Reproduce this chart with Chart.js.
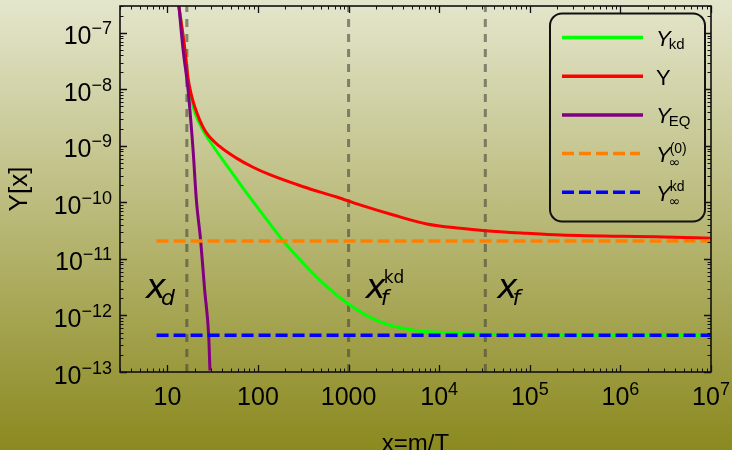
<!DOCTYPE html>
<html><head><meta charset="utf-8">
<script src="https://cdn.jsdelivr.net/npm/chart.js@4.4.1/dist/chart.umd.min.js"></script>
<style>
html,body{margin:0;padding:0;background:#fff;}
#wrap{width:732px;height:450px;background:linear-gradient(to bottom,#e4e6cc 0%,#8b891f 100%);position:relative;overflow:hidden;}
canvas{display:block;}
</style></head><body>
<div id="wrap"><canvas id="c" width="732" height="450"></canvas></div>
<script>
// ---- axis ranges & ticks ----
const xMin = 3, xMax = 1e7;
const yMin = 1e-13, yMax = 3e-7;
const xTickVals = [10, 100, 1000, 1e4, 1e5, 1e6, 1e7];
const xTickBase = ['10', '100', '1000', '10', '10', '10', '10'];
const xTickExp  = ['', '', '', '4', '5', '6', '7'];
const yTickVals = [1e-7, 1e-8, 1e-9, 1e-10, 1e-11, 1e-12, 1e-13];
const yTickBase = ['10', '10', '10', '10', '10', '10', '10'];
const yTickExp  = ['\u22127', '\u22128', '\u22129', '\u221210', '\u221211', '\u221212', '\u221213'];

// ---- series ----
const ykdX = [13.4, 15.6, 16.9, 18.4, 20.5, 24.7, 31.9, 44.9, 68.4, 105, 190, 316, 483, 993, 2230, 5200, 12200, 47500, 1e6, 1e7];
const ykdY = [3e-7, 5e-8, 1.45e-8, 6.6e-9, 3.6e-9, 1.9e-9, 1.0e-9, 4.6e-10, 1.8e-10, 7.2e-11, 2.08e-11, 8.4e-12, 4.2e-12, 1.6e-12, 7.7e-13, 5.5e-13, 4.97e-13, 4.6e-13, 4.47e-13, 4.45e-13];

const yX = [13.4, 15.6, 16.9, 18.4, 20.0, 22.7, 27.0, 37.8, 57.8, 88.3, 135, 316, 739, 1337, 3125, 7310, 17100, 32300, 93300, 2.18e5, 3.0e6, 1e7];
const yY = [3e-7, 5.1e-8, 1.6e-8, 8e-9, 5.0e-9, 2.9e-9, 1.7e-9, 9.8e-10, 6.1e-10, 4.2e-10, 3.1e-10, 1.9e-10, 1.25e-10, 9.06e-11, 6.0e-11, 4.17e-11, 3.49e-11, 3.17e-11, 2.85e-11, 2.66e-11, 2.45e-11, 2.33e-11];

const yeqX = [13.4, 14.9, 16.9, 19.2, 20.9, 23.3, 25.8, 28.6, 29.5];
const yeqY = [3e-7, 5.1e-8, 1e-8, 8.6e-10, 1.1e-10, 2.1e-11, 2.8e-12, 4.3e-13, 1.06e-13];

const yInf0 = 2.08e-11;      // Y_inf^(0)
const yInfKd = 4.45e-13;     // Y_inf^kd
const hLineX = [7.6, 1e7];   // x-extent of the two asymptote lines

const xD = 16.4, xFkd = 1000, xF = 32300;   // vertical markers

const pts = (xs, ys) => xs.map((v, i) => ({x: v, y: ys[i]}));
const vline = v => [{x: v, y: yMin}, {x: v, y: yMax}];
const hline = v => hLineX.map(xx => ({x: xx, y: v}));

const GRAY = 'rgba(70,70,60,0.6)';
const FONT = "'Liberation Sans', Arial, sans-serif";
const MATH = "'DejaVu Sans', sans-serif";

function drawSup(ctx, base, exp, x, baseline, align, bs, es, rise) {
  ctx.font = bs + 'px ' + FONT;
  const wb = ctx.measureText(base).width;
  ctx.font = es + 'px ' + FONT;
  const we = exp ? ctx.measureText(exp).width : 0;
  const w = wb + we;
  let x0 = align === 'center' ? x - w / 2 : (align === 'right' ? x - w : x);
  ctx.textAlign = 'left';
  ctx.textBaseline = 'alphabetic';
  ctx.font = bs + 'px ' + FONT;
  ctx.fillText(base, x0, baseline);
  if (exp) { ctx.font = es + 'px ' + FONT; ctx.fillText(exp, x0 + wb, baseline - rise); }
}

const decor = {
  id: 'decor',
  afterDatasetsDraw(chart) {
    const {ctx, chartArea: a, scales: {x, y}} = chart;
    ctx.save();
    ctx.strokeStyle = '#111';
    // minor/major ticks on all four sides
    const xt = [], yt = [];
    for (let e = 0; e <= 7; e++) for (let k = 1; k <= 9; k++) {
      const v = k * Math.pow(10, e);
      if (v >= xMin * 0.999 && v <= xMax * 1.001) xt.push([v, k === 1]);
    }
    for (let e = -13; e <= -7; e++) for (let k = 1; k <= 9; k++) {
      const v = k * Math.pow(10, e);
      if (v >= yMin * 0.999 && v <= yMax * 1.001) yt.push([v, k === 1]);
    }
    xt.forEach(([v, maj]) => {
      const px = Math.round(x.getPixelForValue(v)) + 0.5;
      const L = maj ? 7 : 3.5;
      ctx.lineWidth = maj ? 1.3 : 1;
      ctx.beginPath();
      ctx.moveTo(px, a.bottom); ctx.lineTo(px, a.bottom - L);
      ctx.moveTo(px, a.top); ctx.lineTo(px, a.top + L);
      ctx.stroke();
    });
    yt.forEach(([v, maj]) => {
      const py = Math.round(y.getPixelForValue(v)) + 0.5;
      const L = maj ? 7 : 3.5;
      ctx.lineWidth = maj ? 1.3 : 1;
      ctx.beginPath();
      ctx.moveTo(a.left, py); ctx.lineTo(a.left + L, py);
      ctx.moveTo(a.right, py); ctx.lineTo(a.right - L, py);
      ctx.stroke();
    });
    // frame
    ctx.lineWidth = 1.6;
    ctx.strokeRect(a.left, a.top, a.right - a.left, a.bottom - a.top);

    // tick labels
    ctx.fillStyle = '#000';
    xTickVals.forEach((v, i) => {
      drawSup(ctx, xTickBase[i], xTickExp[i], x.getPixelForValue(v), a.bottom + 33, 'center', 25, 18, 10);
    });
    yTickVals.forEach((v, i) => {
      drawSup(ctx, yTickBase[i], yTickExp[i], a.left - 8, y.getPixelForValue(v) + 11.5, 'right', 25, 18, 10);
    });
    // axis titles
    ctx.font = '24px ' + FONT;
    ctx.textAlign = 'center'; ctx.textBaseline = 'alphabetic';
    ctx.fillText('x=m/T', (a.left + a.right) / 2, 451);
    ctx.save();
    ctx.translate(20, (a.top + a.bottom) / 2);
    ctx.rotate(-Math.PI / 2);
    ctx.font = '26px ' + FONT;
    ctx.textBaseline = 'middle';
    ctx.fillText('Y[x]', 0, 0);
    ctx.restore();

    // marker annotations
    ctx.textAlign = 'left'; ctx.textBaseline = 'alphabetic';
    const ann = (px, sub, sup) => {
      ctx.font = 'oblique 34px ' + MATH;
      ctx.fillText('x', px, 298);
      const w = ctx.measureText('x').width;
      ctx.font = 'oblique 22px ' + MATH;
      ctx.fillText(sub, px + w - 5, 305);
      if (sup) { ctx.font = '17px ' + MATH; ctx.fillText(sup, px + w - 2, 283); }
    };
    ann(x.getPixelForValue(xD) - 41, 'd', '');
    ann(x.getPixelForValue(xFkd) + 17, 'f', 'kd');
    ann(x.getPixelForValue(xF) + 12, 'f', '');

    // legend
    ctx.lineWidth = 2;
    ctx.strokeStyle = '#111';
    ctx.beginPath();
    ctx.roundRect(550, 13.5, 155, 208, 12);
    ctx.stroke();
    const ds = chart.data.datasets;
    for (let i = 0; i < 5; i++) {
      const d = ds[i];
      const ly = 37.5 + i * 38.7;
      ctx.save();
      ctx.strokeStyle = d.borderColor;
      ctx.lineWidth = 3.5;
      ctx.setLineDash(d.borderDash || []);
      ctx.beginPath();
      ctx.moveTo(562, ly); ctx.lineTo(d.borderDash ? 640 : 643, ly);
      ctx.stroke();
      ctx.restore();
      const lbl = d.legendParts;
      const bl = ly + 8.5;
      ctx.fillStyle = '#000';
      ctx.font = (lbl.it ? 'italic ' : '') + '22px ' + FONT;
      ctx.fillText('Y', 656, bl);
      const wy = ctx.measureText('Y').width;
      if (lbl.sub) { ctx.font = (lbl.sub === '\u221e' ? '14px ' + MATH : '15px ' + FONT); ctx.fillText(lbl.sub, 656 + wy - 2, bl + (lbl.sub === '\u221e' ? 5 : 3)); }
      if (lbl.sup) { ctx.font = '14px ' + FONT; ctx.fillText(lbl.sup, 656 + wy - 1, bl - 9.5); }
    }
    ctx.restore();
  }
};

new Chart(document.getElementById('c'), {
  type: 'line',
  data: {
    datasets: [
      {label: 'Y_kd', data: pts(ykdX, ykdY), borderColor: '#00ff00', borderWidth: 3, cubicInterpolationMode: 'monotone', order: 5, legendParts: {it: true, sub: 'kd'}},
      {label: 'Y', data: pts(yX, yY), borderColor: '#ff0000', borderWidth: 3, cubicInterpolationMode: 'monotone', order: 4, legendParts: {it: false}},
      {label: 'Y_EQ', data: pts(yeqX, yeqY), borderColor: '#800080', borderWidth: 3, cubicInterpolationMode: 'monotone', order: 3, legendParts: {it: true, sub: 'EQ'}},
      {label: 'Y_inf^(0)', data: hline(yInf0), borderColor: '#ff8000', borderWidth: 3.5, borderDash: [12, 5], order: 2, legendParts: {it: true, sub: '\u221e', sup: '(0)'}},
      {label: 'Y_inf^kd', data: hline(yInfKd), borderColor: '#0000ff', borderWidth: 3.5, borderDash: [12, 5], order: 1, legendParts: {it: true, sub: '\u221e', sup: 'kd'}},
      {label: 'x_d', data: vline(xD), borderColor: GRAY, borderWidth: 3, borderDash: [8, 7], order: 8},
      {label: 'x_f^kd', data: vline(xFkd), borderColor: GRAY, borderWidth: 3, borderDash: [8, 7], order: 8},
      {label: 'x_f', data: vline(xF), borderColor: GRAY, borderWidth: 3, borderDash: [8, 7], order: 8}
    ]
  },
  options: {
    responsive: false,
    animation: false,
    parsing: true,
    elements: {point: {radius: 0, hoverRadius: 0}, line: {fill: false}},
    layout: {padding: {left: 120, right: 21, top: 6, bottom: 78}},
    scales: {
      x: {type: 'logarithmic', min: xMin, max: xMax, display: false},
      y: {type: 'logarithmic', min: yMin, max: yMax, display: false}
    },
    plugins: {legend: {display: false}, tooltip: {enabled: false}}
  },
  plugins: [decor]
});
</script>
</body></html>
